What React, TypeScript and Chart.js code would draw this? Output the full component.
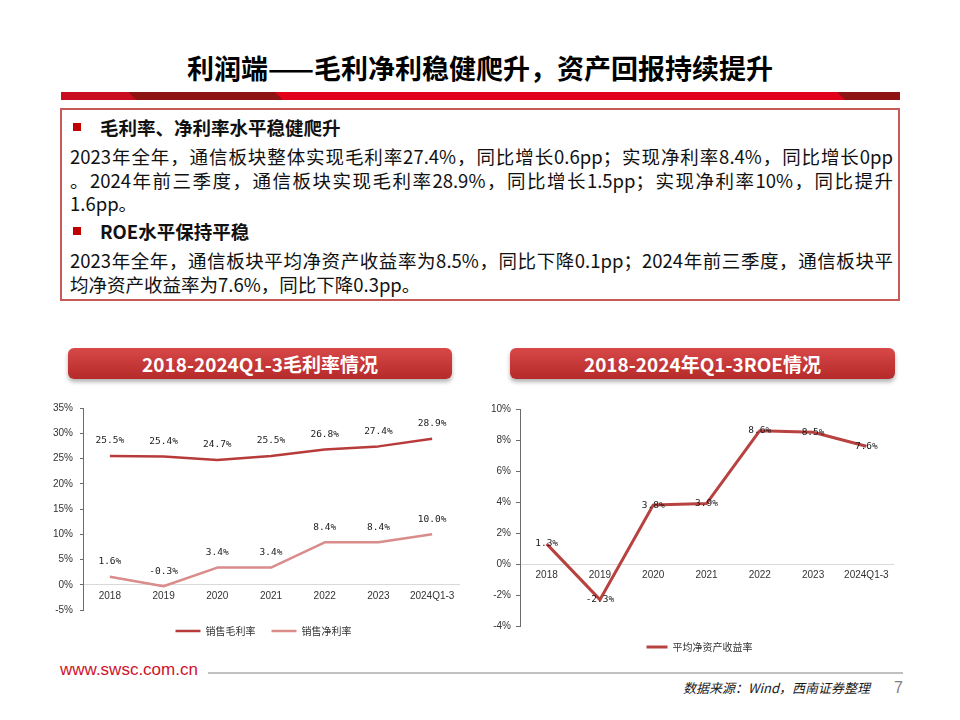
import React, { useEffect, useRef } from 'react';
import { Chart, registerables } from 'chart.js';

Chart.register(...registerables);

// ---------- data ----------
const categories = ['2018', '2019', '2020', '2021', '2022', '2023', '2024Q1-3'];
const grossMargin = [25.5, 25.4, 24.7, 25.5, 26.8, 27.4, 28.9];
const netMargin = [1.6, -0.3, 3.4, 3.4, 8.4, 8.4, 10.0];
const roe = [1.3, -2.3, 3.8, 3.9, 8.6, 8.5, 7.6];
const marginSeriesNames = ['销售毛利率', '销售净利率'];
const roeSeriesName = '平均净资产收益率';
const marginAxis = [-5, 35, 5];
const roeAxis = [-4, 10, 2];

const titleText = '利润端——毛利净利稳健爬升，资产回报持续提升';
const heading1 = '毛利率、净利率水平稳健爬升';
const para1 = [
  '2023年全年，通信板块整体实现毛利率27.4%，同比增长0.6pp；实现净利率8.4%，同比增长0pp',
  '。2024年前三季度，通信板块实现毛利率28.9%，同比增长1.5pp；实现净利率10%，同比提升',
  '1.6pp。',
];
const heading2 = 'ROE水平保持平稳';
const para2 = [
  '2023年全年，通信板块平均净资产收益率为8.5%，同比下降0.1pp；2024年前三季度，通信板块平',
  '均净资产收益率为7.6%，同比下降0.3pp。',
];
const leftHeader = '2018-2024Q1-3毛利率情况';
const rightHeader = '2018-2024年Q1-3ROE情况';
const siteText = 'www.swsc.com.cn';
const sourceText = '数据来源：Wind，西南证券整理';
const pageNo = '7';

// ---------- styles ----------
const CJK = '"Noto Sans CJK SC", "Noto Sans", sans-serif';
const AXIS_FONT = { family: '"Liberation Sans", Arial, sans-serif', size: 10 };
const GROSS_COLOR = '#b73b3b';
const NET_COLOR = '#d98c8a';
const ROE_COLOR = '#b84240';

function labelPlugin(offsetY: number) {
  return {
    id: 'valueLabels',
    afterDatasetsDraw(chart: any) {
      const { ctx } = chart;
      ctx.save();
      ctx.font = '9.5px "DejaVu Sans Mono", monospace';
      ctx.fillStyle = '#1a1a1a';
      ctx.textAlign = 'center';
      ctx.textBaseline = 'middle';
      chart.data.datasets.forEach((ds: any, i: number) => {
        const meta = chart.getDatasetMeta(i);
        meta.data.forEach((pt: any, j: number) => {
          ctx.fillText(Number(ds.data[j]).toFixed(1) + '%', pt.x, pt.y + offsetY);
        });
      });
      ctx.restore();
    },
  };
}

function legendShift(dx: number) {
  return {
    id: 'legendShift',
    afterLayout(chart: any) {
      if (chart.legend) {
        chart.legend.left += dx;
        chart.legend.right += dx;
      }
    },
  };
}

function yAxis(range: number[], width: number, tickLength: number, padding: number) {
  return {
    min: range[0],
    max: range[1],
    afterFit: (s: any) => {
      s.width = width;
    },
    ticks: {
      stepSize: range[2],
      callback: (v: any) => v + '%',
      font: AXIS_FONT,
      color: '#333',
      padding,
    },
    grid: { drawOnChartArea: false, drawTicks: true, tickLength, color: '#6b6b6b' },
    border: { display: true, color: '#6b6b6b', width: 1 },
  };
}

function xAxis() {
  return {
    type: 'category',
    position: { y: 0 },
    offset: true,
    grid: { display: false, drawTicks: false },
    border: { display: true, color: '#d9d9d9', width: 1 },
    ticks: { font: AXIS_FONT, color: '#333', padding: 5, maxRotation: 0, autoSkip: false },
  };
}

function legendOpts(lineW: number) {
  return {
    position: 'bottom',
    labels: {
      usePointStyle: true,
      pointStyle: 'line',
      pointStyleWidth: lineW,
      font: { family: CJK, size: 10 },
      color: '#333',
      padding: 16,
    },
  };
}

function ChartCanvas(props: { left: number; top: number; width: number; height: number; build: () => any }) {
  const { left, top, width, height, build } = props;
  const ref = useRef<HTMLCanvasElement>(null);
  useEffect(() => {
    const chart = new Chart(ref.current as HTMLCanvasElement, build());
    return () => chart.destroy();
  }, []);
  return (
    <canvas
      ref={ref}
      width={width}
      height={height}
      style={{ position: 'absolute', left, top, width, height }}
    />
  );
}

const buildMargin = () => ({
  type: 'line',
  data: {
    labels: categories,
    datasets: [
      {
        label: marginSeriesNames[0],
        data: grossMargin,
        borderColor: GROSS_COLOR,
        backgroundColor: GROSS_COLOR,
        borderWidth: 2.5,
        pointRadius: 0,
        tension: 0,
        borderJoinStyle: 'round',
      },
      {
        label: marginSeriesNames[1],
        data: netMargin,
        borderColor: NET_COLOR,
        backgroundColor: NET_COLOR,
        borderWidth: 2.5,
        pointRadius: 0,
        tension: 0,
        borderJoinStyle: 'round',
      },
    ],
  },
  options: {
    responsive: false,
    animation: false,
    events: [],
    layout: { padding: { top: 12, left: 0, right: 11, bottom: 0 } },
    scales: { x: xAxis(), y: yAxis(marginAxis, 43, 3, 7) },
    plugins: { legend: legendOpts(25), tooltip: { enabled: false } },
  },
  plugins: [labelPlugin(-15), legendShift(14)],
});

const buildRoe = () => ({
  type: 'line',
  data: {
    labels: categories,
    datasets: [
      {
        label: roeSeriesName,
        data: roe,
        borderColor: ROE_COLOR,
        backgroundColor: ROE_COLOR,
        borderWidth: 3,
        pointRadius: 0,
        tension: 0,
        borderJoinStyle: 'round',
      },
    ],
  },
  options: {
    responsive: false,
    animation: false,
    events: [],
    layout: { padding: { top: 14, left: 0, right: 12, bottom: 0 } },
    scales: { x: xAxis(), y: yAxis(roeAxis, 42, 4, 5) },
    plugins: { legend: legendOpts(21), tooltip: { enabled: false } },
  },
  plugins: [labelPlugin(0), legendShift(14)],
});

const abs = (left: number, top: number, extra: any = {}) => ({ position: 'absolute' as const, left, top, ...extra });

function TextLine({ text, top, justify }: { text: string; top: number; justify: boolean }) {
  return (
    <div
      style={abs(70, top, {
        width: 823,
        height: 24,
        lineHeight: '24px',
        fontFamily: CJK,
        fontSize: 18.5,
        color: '#111',
        whiteSpace: 'nowrap',
        textAlign: justify ? 'justify' : 'left',
        textAlignLast: justify ? 'justify' : 'left',
      })}
    >
      {text}
    </div>
  );
}

function Heading({ text, top }: { text: string; top: number }) {
  return (
    <>
      <div style={abs(73, top + 8, { width: 8, height: 8, background: '#c00000' })} />
      <div
        style={abs(100, top, {
          height: 24,
          lineHeight: '24px',
          fontFamily: CJK,
          fontSize: 18.5,
          fontWeight: 700,
          color: '#111',
          whiteSpace: 'nowrap',
        })}
      >
        {text}
      </div>
    </>
  );
}

function HeaderBox({ left, width, text }: { left: number; width: number; text: string }) {
  return (
    <div
      style={abs(left, 348, {
        width,
        height: 31,
        borderRadius: 6,
        background: 'linear-gradient(#d84848, #b52a2a)',
        boxShadow: '0 3px 4px rgba(0,0,0,0.3)',
        color: '#fff',
        fontFamily: CJK,
        fontWeight: 700,
        fontSize: 19,
        lineHeight: '31px',
        textAlign: 'center',
        whiteSpace: 'nowrap',
      })}
    >
      {text}
    </div>
  );
}

export default function App() {
  return (
    <div style={{ position: 'absolute', left: 0, top: 0, width: 960, height: 720, background: '#fff', overflow: 'hidden' }}>
      <div
        style={abs(0, 50, {
          width: 960,
          height: 36,
          lineHeight: '36px',
          textAlign: 'center',
          fontFamily: CJK,
          fontWeight: 700,
          fontSize: 27,
          color: '#000',
        })}
      >
        {titleText}
      </div>
      {/* red bar */}
      <div style={abs(61, 92, { width: 839, height: 8, background: '#e2001a' })} />
      <div style={abs(128, 92, { width: 155, height: 8, background: '#8e1414', clipPath: 'polygon(0 0, 147px 0, 155px 100%, 8px 100%)' })} />
      <div style={abs(61, 92, { width: 75, height: 8, background: '#c90d1f', clipPath: 'polygon(0 0, 67px 0, 75px 100%, 0 100%)' })} />
      <div style={abs(837, 92, { width: 63, height: 8, background: '#8e1414', clipPath: 'polygon(0 0, 63px 0, 63px 100%, 8px 100%)' })} />

      {/* text box */}
      <div style={abs(60, 108, { width: 840, height: 193, border: '2px solid #c55a57', boxSizing: 'border-box' })} />
      <Heading text={heading1} top={115} />
      <TextLine text={para1[0]} top={144} justify />
      <TextLine text={para1[1]} top={168} justify />
      <TextLine text={para1[2]} top={191} justify={false} />
      <Heading text={heading2} top={219} />
      <TextLine text={para2[0]} top={248} justify />
      <TextLine text={para2[1]} top={272} justify={false} />

      <HeaderBox left={68} width={384} text={leftHeader} />
      <HeaderBox left={510} width={385} text={rightHeader} />

      <ChartCanvas left={40} top={395} width={430} height={251} build={buildMargin} />
      <ChartCanvas left={478} top={395} width={427} height={267} build={buildRoe} />

      {/* footer */}
      <div
        style={abs(60, 660, {
          height: 20,
          lineHeight: '20px',
          fontFamily: '"Liberation Sans", Arial, sans-serif',
          fontSize: 17,
          color: '#d0112b',
          whiteSpace: 'nowrap',
        })}
      >
        {siteText}
      </div>
      <div style={abs(208, 672, { width: 695, height: 2, background: '#c0c0c0' })} />
      <div
        style={abs(560, 678, {
          width: 310,
          height: 20,
          lineHeight: '20px',
          textAlign: 'right',
          fontFamily: CJK,
          fontStyle: 'italic',
          fontSize: 13,
          color: '#1a1a1a',
          whiteSpace: 'nowrap',
        })}
      >
        {sourceText}
      </div>
      <div
        style={abs(894, 678, {
          height: 20,
          lineHeight: '20px',
          fontFamily: '"Liberation Sans", Arial, sans-serif',
          fontSize: 16,
          color: '#808080',
        })}
      >
        {pageNo}
      </div>
    </div>
  );
}
